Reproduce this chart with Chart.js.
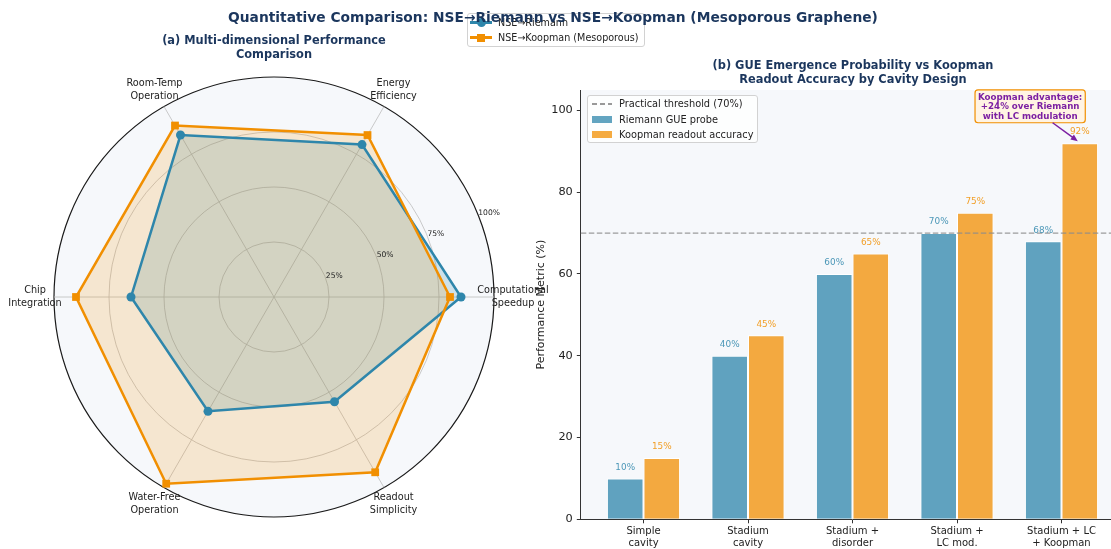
<!DOCTYPE html>
<html>
<head>
<meta charset="utf-8">
<script src="https://cdn.jsdelivr.net/npm/chart.js@4.4.1/dist/chart.umd.min.js"></script>
<style>
  html, body { margin: 0; padding: 0; background: #fff; }
  body { width: 1111px; height: 549px; position: relative; overflow: hidden; font-family: "DejaVu Sans", sans-serif; }
  canvas { position: absolute; top: 0; }
  #radarCanvas { left: 0; }
  #barCanvas { left: 531px; }
  .title { position: absolute; font-weight: bold; color: #1b365d; text-align: center; white-space: nowrap; }
  .legend { position: absolute; box-sizing: border-box; border: 1px solid #d2d2d2; border-radius: 3px;
            background: rgba(255,255,255,0.8); color: #222; white-space: nowrap; }
  .row { display: flex; align-items: center; }
  .sw { position: relative; flex: none; }
  .sw i { position: absolute; display: block; }
</style>
</head>
<body>
<canvas id="radarCanvas" width="560" height="549"></canvas>
<canvas id="barCanvas" width="609" height="549"></canvas>

<div class="title" style="left:74px;top:34px;width:400px;font-size:11.4px;line-height:13.5px">(a) Multi-dimensional Performance<br>Comparison</div>
<div class="title" style="left:653px;top:59px;width:400px;font-size:11.4px;line-height:13.5px">(b) GUE Emergence Probability vs Koopman<br>Readout Accuracy by Cavity Design</div>

<div class="legend" style="left:467px;top:13px;width:178px;height:34px;padding:1px 0 0 2px;font-size:9.6px">
  <div class="row" style="height:15px"><span class="sw" style="width:22px;height:15px;margin-right:6px">
    <i style="left:0;right:0;top:6px;height:2.5px;background:#2E86AB"></i>
    <i style="left:6.5px;top:3px;width:9px;height:9px;border-radius:50%;background:#2E86AB"></i></span>NSE→Riemann</div>
  <div class="row" style="height:15px"><span class="sw" style="width:22px;height:15px;margin-right:6px">
    <i style="left:0;right:0;top:6px;height:2.5px;background:#F18F01"></i>
    <i style="left:7px;top:3.5px;width:8px;height:8px;background:#F18F01"></i></span>NSE→Koopman (Mesoporous)</div>
</div>

<div class="legend" style="left:587px;top:95px;width:171px;height:48px;padding:0 0 0 4px;font-size:9.8px">
  <div class="row" style="height:15.5px"><span class="sw" style="width:20px;height:15px;margin-right:7px">
    <i style="left:0;right:0;top:7px;height:1.3px;background:repeating-linear-gradient(90deg,#999 0 5px,transparent 5px 8px)"></i></span>Practical threshold (70%)</div>
  <div class="row" style="height:15.5px"><span class="sw" style="width:20px;height:15px;margin-right:7px">
    <i style="left:0;right:0;top:4px;height:7px;background:rgba(46,134,171,0.75)"></i></span>Riemann GUE probe</div>
  <div class="row" style="height:15.5px"><span class="sw" style="width:20px;height:15px;margin-right:7px">
    <i style="left:0;right:0;top:4px;height:7px;background:rgba(241,143,1,0.75)"></i></span>Koopman readout accuracy</div>
</div>

<div class="title" style="left:0;top:8px;width:1106px;font-size:13.8px;line-height:18px">Quantitative Comparison: NSE→Riemann vs NSE→Koopman (Mesoporous Graphene)</div>

<script>
const FONT = "'DejaVu Sans', sans-serif";
const BLUE = "#2E86AB";
const ORANGE = "#F18F01";

// radar axes, clockwise from the right-hand spoke
const radarAxes = [
  ["Computational", "Speedup"],
  ["Readout", "Simplicity"],
  ["Water-Free", "Operation"],
  ["Chip", "Integration"],
  ["Room-Temp", "Operation"],
  ["Energy", "Efficiency"]
];
const riemannScores = [85, 55, 60, 65, 85, 80];
const koopmanScores = [80, 92, 98, 90, 90, 85];
const radarTicks = [25, 50, 75, 100];

const cavityDesigns = [
  ["Simple", "cavity"],
  ["Stadium", "cavity"],
  ["Stadium +", "disorder"],
  ["Stadium +", "LC mod."],
  ["Stadium + LC", "+ Koopman"]
];
const gueProbe = [10, 40, 60, 70, 68];
const koopmanAccuracy = [15, 45, 65, 75, 92];
const yTicks = [0, 20, 40, 60, 80, 100];
const threshold = 70;
const noteLines = ["Koopman advantage:", "+24% over Riemann", "with LC modulation"];

const radarDecor = {
  id: "radarDecor",
  beforeDraw(chart){
    const r = chart.scales.r;
    const ctx = chart.ctx;
    ctx.save();
    ctx.fillStyle = "#f6f8fb";
    ctx.beginPath();
    ctx.arc(r.xCenter, r.yCenter, r.drawingArea, 0, Math.PI * 2);
    ctx.fill();
    ctx.restore();
  },
  afterDraw(chart){
    const r = chart.scales.r;
    const ctx = chart.ctx;
    ctx.save();
    ctx.fillStyle = "#222";
    ctx.textAlign = "center";
    ctx.textBaseline = "middle";
    ctx.font = "9.7px " + FONT;
    radarAxes.forEach((lines, i) => {
      const p = r.getPointPosition(i, r.drawingArea + 19);
      lines.forEach((t, k) => ctx.fillText(t, p.x, p.y + (k - (lines.length - 1) / 2) * 12.3));
    });
    // radial tick labels along the 22.5 degree ray
    ctx.font = "7.6px " + FONT;
    ctx.textAlign = "left";
    const a = -22.5 * Math.PI / 180;
    radarTicks.forEach((v) => {
      const d = r.getDistanceFromCenterForValue(v);
      ctx.fillText(v + "%", r.xCenter + d * Math.cos(a) + 1, r.yCenter + d * Math.sin(a));
    });
    ctx.restore();
  }
};

new Chart(document.getElementById("radarCanvas"), {
  type: "radar",
  data: {
    labels: radarAxes,
    datasets: [
      {
        label: "NSE→Riemann",
        data: riemannScores,
        borderColor: BLUE,
        backgroundColor: "rgba(46,134,171,0.2)",
        borderWidth: 2.5,
        fill: true,
        pointStyle: "circle",
        pointRadius: 4.5,
        pointBackgroundColor: BLUE,
        pointBorderColor: BLUE,
        pointBorderWidth: 0,
        order: 1
      },
      {
        label: "NSE→Koopman (Mesoporous)",
        data: koopmanScores,
        borderColor: ORANGE,
        backgroundColor: "rgba(241,143,1,0.17)",
        borderWidth: 2.5,
        fill: true,
        pointStyle: "rect",
        pointRadius: 5.5,
        pointBackgroundColor: ORANGE,
        pointBorderColor: ORANGE,
        pointBorderWidth: 0,
        order: 0
      }
    ]
  },
  options: {
    responsive: false,
    animation: false,
    devicePixelRatio: 1,
    layout: { padding: { left: 54, top: 77, right: 66, bottom: 32 } },
    elements: { line: { tension: 0 } },
    plugins: {
      legend: { display: false },
      tooltip: { enabled: false },
      filler: { drawTime: "beforeDatasetsDraw" }
    },
    scales: {
      r: {
        min: 0,
        max: 100,
        startAngle: 90,
        ticks: { display: false, stepSize: 25 },
        pointLabels: { display: false },
        grid: {
          circular: true,
          color: (c) => (c.tick && c.tick.value === 100 ? "#1a1a1a" : "#bdbdbd"),
          lineWidth: (c) => (c.tick && c.tick.value === 100 ? 1.2 : 0.8)
        },
        angleLines: { color: "#bdbdbd", lineWidth: 0.8 }
      }
    }
  },
  plugins: [radarDecor]
});

const barDecor = {
  id: "barDecor",
  beforeDraw(chart){
    const { ctx, chartArea: a } = chart;
    ctx.save();
    ctx.fillStyle = "#f6f8fb";
    ctx.fillRect(a.left, a.top, a.right - a.left, a.bottom - a.top);
    ctx.restore();
  },
  afterDatasetsDraw(chart){
    const { ctx, chartArea: a, scales: { x, y } } = chart;
    ctx.save();

    const ty = y.getPixelForValue(threshold);
    ctx.strokeStyle = "rgba(140,140,140,0.85)";
    ctx.lineWidth = 1.2;
    ctx.setLineDash([5.5, 2.5]);
    ctx.beginPath();
    ctx.moveTo(a.left, ty);
    ctx.lineTo(a.right, ty);
    ctx.stroke();
    ctx.setLineDash([]);

    const labelColors = ["rgba(46,134,171,0.85)", "rgba(241,143,1,0.85)"];
    ctx.font = "8.9px " + FONT;
    ctx.textAlign = "center";
    ctx.textBaseline = "middle";
    chart.data.datasets.forEach((ds, di) => {
      ctx.fillStyle = labelColors[di];
      chart.getDatasetMeta(di).data.forEach((bar, i) => {
        ctx.fillText(ds.data[i].y + "%", bar.x, bar.y - 11);
      });
    });

    // annotation box + arrow to the last Koopman bar
    const target = chart.getDatasetMeta(1).data[koopmanAccuracy.length - 1];
    const cx = x.getPixelForValue(3.7);
    const cy = y.getPixelForValue(101);
    ctx.font = "bold 8.7px " + FONT;
    const w = Math.max(...noteLines.map((t) => ctx.measureText(t).width)) + 6;
    const h = noteLines.length * 9.6 + 4;
    ctx.beginPath();
    ctx.roundRect(cx - w / 2, cy - h / 2, w, h, 3);
    ctx.fillStyle = "#fff4e3";
    ctx.fill();
    ctx.strokeStyle = ORANGE;
    ctx.lineWidth = 1.2;
    ctx.stroke();
    ctx.fillStyle = "#7b1fa2";
    noteLines.forEach((t, k) => ctx.fillText(t, cx, cy + (k - 1) * 9.6 + 0.5));

    const tx = target.x - 2, tyy = target.y - 2;
    const dx = tx - cx, dy = tyy - cy;
    const t0 = (h / 2) / dy;
    const sx = cx + dx * t0, sy = cy + h / 2;
    const ang = Math.atan2(tyy - sy, tx - sx);
    ctx.strokeStyle = "#7b1fa2";
    ctx.lineWidth = 1.5;
    ctx.beginPath();
    ctx.moveTo(sx, sy);
    ctx.lineTo(tx - 5 * Math.cos(ang), tyy - 5 * Math.sin(ang));
    ctx.stroke();
    ctx.fillStyle = "#7b1fa2";
    ctx.beginPath();
    ctx.moveTo(tx, tyy);
    ctx.lineTo(tx - 7 * Math.cos(ang) + 3 * Math.sin(ang), tyy - 7 * Math.sin(ang) - 3 * Math.cos(ang));
    ctx.lineTo(tx - 7 * Math.cos(ang) - 3 * Math.sin(ang), tyy - 7 * Math.sin(ang) + 3 * Math.cos(ang));
    ctx.closePath();
    ctx.fill();

    ctx.restore();
  }
};

new Chart(document.getElementById("barCanvas"), {
  type: "bar",
  data: {
    datasets: [
      {
        label: "Riemann GUE probe",
        data: gueProbe.map((v, i) => ({ x: i, y: v })),
        backgroundColor: "rgba(46,134,171,0.75)",
        borderColor: "#ffffff",
        borderWidth: 1,
        categoryPercentage: 0.7,
        barPercentage: 1
      },
      {
        label: "Koopman readout accuracy",
        data: koopmanAccuracy.map((v, i) => ({ x: i, y: v })),
        backgroundColor: "rgba(241,143,1,0.75)",
        borderColor: "#ffffff",
        borderWidth: 1,
        categoryPercentage: 0.7,
        barPercentage: 1
      }
    ]
  },
  options: {
    responsive: false,
    animation: false,
    devicePixelRatio: 1,
    layout: { padding: { top: 90, right: 15.8, left: 0, bottom: 0 } },
    plugins: { legend: { display: false }, tooltip: { enabled: false } },
    scales: {
      x: {
        type: "linear",
        min: -0.6,
        max: 4.6,
        offset: false,
        afterBuildTicks: (s) => { s.ticks = cavityDesigns.map((_, i) => ({ value: i })); },
        afterFit: (s) => { s.height = 29.7; },
        ticks: {
          autoSkip: false,
          maxRotation: 0,
          padding: 2,
          color: "#222",
          font: { family: FONT, size: 10, lineHeight: 1.2 },
          callback: (v) => cavityDesigns[v] || ""
        },
        grid: { offset: false, drawOnChartArea: false, drawTicks: true, tickLength: 4, color: "#333", lineWidth: 1 },
        border: { color: "#333", width: 1 }
      },
      y: {
        min: 0,
        max: 105,
        afterBuildTicks: (s) => { s.ticks = yTicks.map((v) => ({ value: v })); },
        afterFit: (s) => { s.width = 49.8; },
        ticks: { padding: 4, color: "#222", font: { family: FONT, size: 11.3 } },
        grid: { drawOnChartArea: false, drawTicks: true, tickLength: 4, color: "#333", lineWidth: 1 },
        border: { color: "#333", width: 1 },
        title: {
          display: true,
          text: "Performance Metric (%)",
          color: "#222",
          font: { family: FONT, size: 11 },
          padding: { top: 4, bottom: 0 }
        }
      }
    }
  },
  plugins: [barDecor]
});
</script>
</body>
</html>
